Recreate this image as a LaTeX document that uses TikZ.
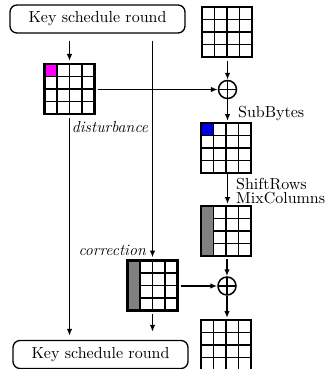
\documentclass[tikz,border=0pt]{standalone}
\usetikzlibrary{arrows.meta,calc}
\definecolor{cmag}{RGB}{255,0,255}
\definecolor{cblue}{RGB}{0,0,230}
\definecolor{cgray}{RGB}{128,128,128}
\newcommand\rtxt[1]{\scalebox{1.6}{\fontsize{10}{12}\selectfont #1}}
\newcommand\gridlines[2][0]{%
  \foreach \k in {12.5,25,37.5}{
    \draw[line width=1.9pt] ($(#2.north west)+(\k,0)$) -- ($(#2.south west)+(\k,0)$);
    \draw[line width=1.9pt] ($(#2.north west)+(#1,\k)$) -- ($(#2.north east)+(0,\k)$);
  }
  \draw[line width=2.3pt] (#2.north west) rectangle (#2.south east);}
\begin{document}
\begin{tikzpicture}[x=1pt,y=-1pt,
  every node/.style={font=\fontsize{16}{18}\selectfont},
  arr/.style={-{Latex[length=7pt,width=5.5pt]},line width=1.5pt},
  keybox/.style={draw,line width=1.3pt,rounded corners=7pt,minimum width=175pt,minimum height=28pt,inner sep=0pt},
  xorn/.style={circle,draw,line width=1.5pt,minimum size=18pt,inner sep=0pt,
    path picture={\draw[line width=1.5pt] (path picture bounding box.north) -- (path picture bounding box.south)
      (path picture bounding box.west) -- (path picture bounding box.east);}},
  gridn/.style={minimum size=50pt,inner sep=0pt,outer sep=0pt}
]
\useasboundingbox (0,0) rectangle (324,369);

\node[keybox] (ks1) at (97.5,19) {\rtxt{Key schedule round}};
\node[keybox] (ks2) at (100.5,354.5) {\rtxt{Key schedule round}};

\node[gridn] (g0) at (227,32) {};
\node[gridn] (dist) at (69.5,89) {};
\fill[cmag] (dist.north west) rectangle ++(12.5,12.5);
\node[xorn] (x1) at (227.5,89.5) {};
\node[gridn] (sub) at (226,148) {};
\fill[cblue] (sub.north west) rectangle ++(12.5,12.5);
\node[gridn] (mix) at (226,231) {};
\fill[cgray] (mix.north west) rectangle ++(12.5,50);
\node[gridn] (corr) at (152.5,285.5) {};
\fill[cgray] (corr.north west) rectangle ++(12.5,50);
\node[xorn] (x2) at (227,286) {};
\node[gridn] (g5) at (226,345) {};
\gridlines{g0}\gridlines{dist}\gridlines{sub}\gridlines[12.5]{mix}\gridlines[12.5]{corr}\gridlines{g5}

\coordinate (k1) at (ks1.south-|dist.north);
\coordinate (k2) at (ks1.south-|corr.north);

\draw[arr,shorten <=7pt,shorten >=3pt] (k1) -- (dist.north);
\draw[arr,shorten <=7pt,shorten >=3pt] (k2) -- (corr.north);
\draw[arr,shorten <=3pt] (dist.east|-x1) -- (x1.west);
\draw[arr,shorten <=4pt] (g0.south-|x1) -- (x1.north);
\draw[arr,shorten >=2pt] (x1.south) -- (sub.north-|x1);
\draw[arr,shorten <=4pt,shorten >=4pt] (dist.south) -- (dist.south|-ks2.north);
\draw[arr,shorten >=2pt] (sub.south-|x1) -- (mix.north-|x1);
\draw[arr,shorten <=3pt] (mix.south-|x2) -- (x2.north);
\draw[arr,shorten <=3pt] (corr.east|-x2) -- (x2.west);
\draw[arr,shorten >=2pt] (x2.south) -- (g5.north-|x2);
\draw[arr,shorten <=3pt,shorten >=8pt] (corr.south) -- (corr.south|-ks2.north);

\node[anchor=base west,inner sep=0pt] (lsb) at (238,117) {\rtxt{SubBytes}};
\node[anchor=base west,inner sep=0pt] (lsr) at (236,189) {\rtxt{ShiftRows}};
\node[anchor=base west,inner sep=0pt] (lmc) at (236,203.5) {\rtxt{MixColumns}};
\node[inner sep=0pt] (ldist) at (110,127) {\itshape disturbance};
\node[anchor=east,inner sep=0pt] (lcorr) at (146,250) {\itshape correction};
\end{tikzpicture}
\end{document}
